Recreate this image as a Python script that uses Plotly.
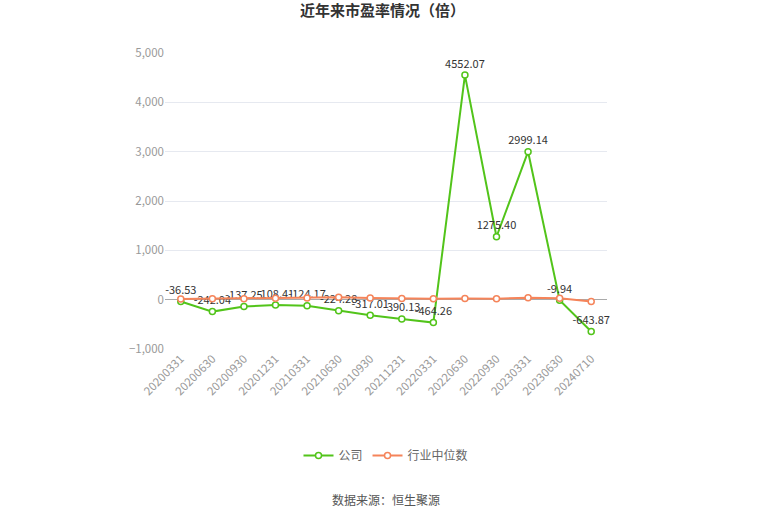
import plotly.graph_objects as go

# 报告期
dates = ["20200331", "20200630", "20200930", "20201231", "20210331", "20210630",
         "20210930", "20211231", "20220331", "20220630", "20220930", "20230331",
         "20230630", "20240710"]

# 公司市盈率
company_pe = [-36.53, -242.04, -137.25, -108.41, -124.17, -224.28, -317.01,
              -390.13, -464.26, 4552.07, 1275.40, 2999.14, -9.94, -643.87]

# 行业中位数
industry_pe = [15, 20, 20, 30, 35, 50, 35, 25, 20, 25, 20, 40, 30, -35]

green = "#52c41a"
orange = "#f5845a"

fig = go.Figure()

fig.add_trace(go.Scatter(
    x=dates, y=company_pe, name="公司",
    mode="lines+markers+text",
    line=dict(color=green, width=2),
    marker=dict(symbol="circle", size=6, color="white",
                line=dict(color=green, width=1.5)),
    text=["%.2f" % v for v in company_pe],
    textposition="top center",
    textfont=dict(size=11, color="#333333"),
    cliponaxis=False,
))

fig.add_trace(go.Scatter(
    x=dates, y=industry_pe, name="行业中位数",
    mode="lines+markers",
    line=dict(color=orange, width=2),
    marker=dict(symbol="circle", size=6, color="white",
                line=dict(color=orange, width=1.5)),
    cliponaxis=False,
))

fig.update_layout(
    width=765, height=517,
    margin=dict(l=165, r=158, t=53, b=168),
    paper_bgcolor="white", plot_bgcolor="white",
    font=dict(family="Noto Sans CJK SC, Microsoft YaHei, sans-serif", color="#666666"),
    title=dict(text="<b>近年来市盈率情况（倍）</b>", x=0.5, xanchor="center",
               y=0.99, yanchor="top", font=dict(size=15, color="#333333")),
    xaxis=dict(
        type="category", tickangle=-45, showgrid=False, showline=False,
        tickfont=dict(size=11.5, color="#999999"), ticks="",
        range=[-0.5, len(dates) - 0.5],
    ),
    yaxis=dict(
        range=[-1000, 5000], dtick=1000, tickformat=",",
        showgrid=True, gridcolor="#e6e9f0", gridwidth=1,
        zeroline=True, zerolinecolor="#aaaaaa", zerolinewidth=1,
        tickfont=dict(size=11.5, color="#999999"), showline=False,
    ),
    legend=dict(orientation="h", x=0.5, xanchor="center", y=-0.36, yanchor="middle",
                font=dict(size=12, color="#666666")),
    showlegend=True,
)

fig.add_annotation(text="数据来源：恒生聚源", xref="paper", yref="paper",
                   x=0.5, y=-0.51, xanchor="center", yanchor="middle",
                   showarrow=False, font=dict(size=12, color="#555555"))

fig.write_html("out.html", config={"displayModeBar": False},
               post_script="document.body.style.margin='0';")
